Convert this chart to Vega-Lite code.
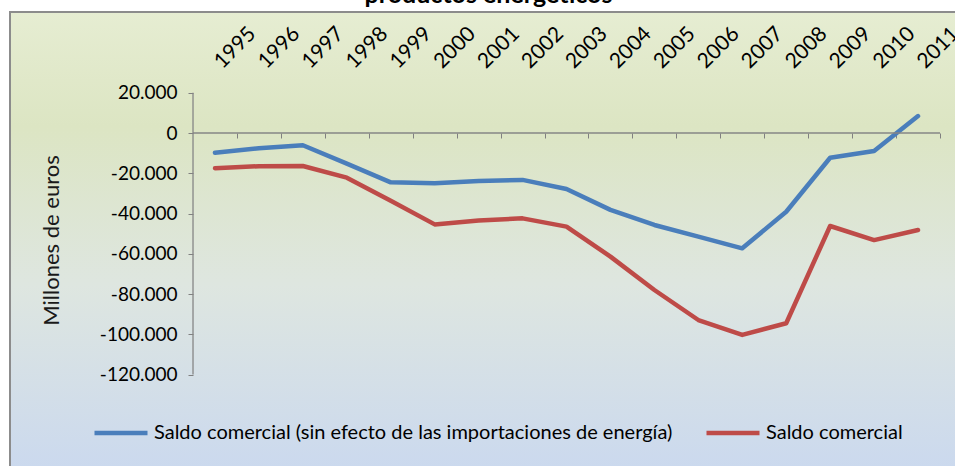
{
  "$schema": "https://vega.github.io/schema/vega-lite/v6.json",
  "width": 947,
  "height": 456,
  "autosize": {"type": "none"},
  "padding": {"left": 10, "top": 12, "right": 0, "bottom": 0},
  "background": "#ffffff",
  "view": {
    "fill": {
      "gradient": "linear",
      "x1": 0, "y1": 0, "x2": 0, "y2": 1,
      "stops": [
        {"offset": 0, "color": "#e6edd2"},
        {"offset": 0.25, "color": "#dce5c3"},
        {"offset": 0.6, "color": "#dee6e0"},
        {"offset": 1, "color": "#cbd9ee"}
      ]
    },
    "stroke": "#8c8c8c",
    "strokeWidth": 2
  },
  "title": {
    "text": "productos energéticos",
    "font": "Lato",
    "fontSize": 25,
    "fontWeight": "bold",
    "color": "#000000",
    "anchor": "middle",
    "frame": "group",
    "baseline": "alphabetic",
    "offset": 2,
    "dx": 5,
    "dy": 18
  },
  "config": {
    "locale": {
      "number": {"decimal": ",", "thousands": ".", "grouping": [3], "currency": ["", " €"], "minus": "-"}
    },
    "font": "Lato",
    "axis": {"grid": false, "domain": false}
  },
  "resolve": {"axis": {"x": "independent", "y": "independent"}},
  "data": {
    "values": [
      {"anio": 1995, "serie": "Saldo comercial (sin efecto de las importaciones de energía)", "valor": -9800},
      {"anio": 1996, "serie": "Saldo comercial (sin efecto de las importaciones de energía)", "valor": -7600},
      {"anio": 1997, "serie": "Saldo comercial (sin efecto de las importaciones de energía)", "valor": -6100},
      {"anio": 1998, "serie": "Saldo comercial (sin efecto de las importaciones de energía)", "valor": -15200},
      {"anio": 1999, "serie": "Saldo comercial (sin efecto de las importaciones de energía)", "valor": -24500},
      {"anio": 2000, "serie": "Saldo comercial (sin efecto de las importaciones de energía)", "valor": -25000},
      {"anio": 2001, "serie": "Saldo comercial (sin efecto de las importaciones de energía)", "valor": -23800},
      {"anio": 2002, "serie": "Saldo comercial (sin efecto de las importaciones de energía)", "valor": -23300},
      {"anio": 2003, "serie": "Saldo comercial (sin efecto de las importaciones de energía)", "valor": -27800},
      {"anio": 2004, "serie": "Saldo comercial (sin efecto de las importaciones de energía)", "valor": -38200},
      {"anio": 2005, "serie": "Saldo comercial (sin efecto de las importaciones de energía)", "valor": -45700},
      {"anio": 2006, "serie": "Saldo comercial (sin efecto de las importaciones de energía)", "valor": -51500},
      {"anio": 2007, "serie": "Saldo comercial (sin efecto de las importaciones de energía)", "valor": -57300},
      {"anio": 2008, "serie": "Saldo comercial (sin efecto de las importaciones de energía)", "valor": -39100},
      {"anio": 2009, "serie": "Saldo comercial (sin efecto de las importaciones de energía)", "valor": -12300},
      {"anio": 2010, "serie": "Saldo comercial (sin efecto de las importaciones de energía)", "valor": -8900},
      {"anio": 2011, "serie": "Saldo comercial (sin efecto de las importaciones de energía)", "valor": 8400},
      {"anio": 1995, "serie": "Saldo comercial", "valor": -17500},
      {"anio": 1996, "serie": "Saldo comercial", "valor": -16500},
      {"anio": 1997, "serie": "Saldo comercial", "valor": -16400},
      {"anio": 1998, "serie": "Saldo comercial", "valor": -22200},
      {"anio": 1999, "serie": "Saldo comercial", "valor": -33600},
      {"anio": 2000, "serie": "Saldo comercial", "valor": -45400},
      {"anio": 2001, "serie": "Saldo comercial", "valor": -43500},
      {"anio": 2002, "serie": "Saldo comercial", "valor": -42400},
      {"anio": 2003, "serie": "Saldo comercial", "valor": -46500},
      {"anio": 2004, "serie": "Saldo comercial", "valor": -61400},
      {"anio": 2005, "serie": "Saldo comercial", "valor": -78000},
      {"anio": 2006, "serie": "Saldo comercial", "valor": -92900},
      {"anio": 2007, "serie": "Saldo comercial", "valor": -100300},
      {"anio": 2008, "serie": "Saldo comercial", "valor": -94500},
      {"anio": 2009, "serie": "Saldo comercial", "valor": -46200},
      {"anio": 2010, "serie": "Saldo comercial", "valor": -53200},
      {"anio": 2011, "serie": "Saldo comercial", "valor": -48200}
    ]
  },
  "layer": [
    {
      "mark": {"type": "line", "strokeWidth": 4.5, "strokeJoin": "round", "strokeCap": "round"},
      "encoding": {
        "x": {
          "field": "anio",
          "type": "quantitative",
          "scale": {"domain": [1990.335, 2011.887], "nice": false, "zero": false},
          "axis": {
            "orient": "top",
            "offset": -57,
            "values": [1995, 1996, 1997, 1998, 1999, 2000, 2001, 2002, 2003, 2004, 2005, 2006, 2007, 2008, 2009, 2010, 2011],
            "format": "d",
            "labelAngle": -45,
            "labelAlign": "left",
            "labelBaseline": "alphabetic",
            "labelPadding": 0,
            "labelOffset": 7,
            "ticks": false,
            "tickSize": 0,
            "domain": false,
            "grid": false,
            "labelFont": "Lato",
            "labelFontSize": 21,
            "labelColor": "#000000",
            "labelOverlap": false,
            "labelBound": false,
            "labelFlush": false,
            "title": null
          }
        },
        "y": {
          "field": "valor",
          "type": "quantitative",
          "scale": {"domain": [-166420, 60110], "nice": false, "zero": false},
          "axis": {
            "orient": "left",
            "offset": -183,
            "values": [-120000, -100000, -80000, -60000, -40000, -20000, 0, 20000],
            "format": ",d",
            "domain": false,
            "grid": false,
            "ticks": true,
            "tickSize": 5,
            "tickColor": "#808080",
            "labelFont": "Lato",
            "labelFontSize": 19,
            "labelColor": "#000000",
            "labelPadding": 11,
            "labelOverlap": false,
            "title": "Millones de euros",
            "titleFont": "Lato",
            "titleFontSize": 22,
            "titleFontWeight": "normal",
            "titleColor": "#1a1a1a",
            "titlePadding": 36
          }
        },
        "color": {
          "field": "serie",
          "type": "nominal",
          "scale": {
            "domain": ["Saldo comercial (sin efecto de las importaciones de energía)", "Saldo comercial"],
            "range": ["#4a7ebb", "#be4b48"]
          },
          "legend": {
            "orient": "none",
            "legendX": 82,
            "legendY": 392,
            "direction": "horizontal",
            "title": null,
            "symbolType": "stroke",
            "symbolSize": 2809,
            "symbolStrokeWidth": 4.5,
            "labelFont": "Lato",
            "labelFontSize": 20,
            "labelColor": "#000000",
            "labelOffset": 4,
            "labelLimit": 1000,
            "columnPadding": 24,
            "padding": 0
          }
        }
      }
    },
    {
      "data": {"values": [{}]},
      "mark": {"type": "rule", "color": "#868686", "strokeWidth": 1.3},
      "encoding": {
        "x": {"datum": 1994.5, "type": "quantitative", "axis": null},
        "y": {"datum": -120000, "type": "quantitative", "axis": null},
        "y2": {"datum": 20000}
      }
    },
    {
      "data": {"values": [{}]},
      "mark": {"type": "rule", "color": "#868686", "strokeWidth": 1.3},
      "encoding": {
        "x": {
          "datum": 1994.5,
          "type": "quantitative",
          "axis": {
            "orient": "bottom",
            "offset": -335,
            "values": [1995.5, 1996.5, 1997.5, 1998.5, 1999.5, 2000.5, 2001.5, 2002.5, 2003.5, 2004.5, 2005.5, 2006.5, 2007.5, 2008.5, 2009.5, 2010.5, 2011.5],
            "labels": false,
            "domain": false,
            "grid": false,
            "ticks": true,
            "tickSize": 5,
            "tickColor": "#808080",
            "tickWidth": 1,
            "title": null
          }
        },
        "x2": {"datum": 2011.5},
        "y": {"datum": 0, "type": "quantitative", "axis": null}
      }
    }
  ]
}
